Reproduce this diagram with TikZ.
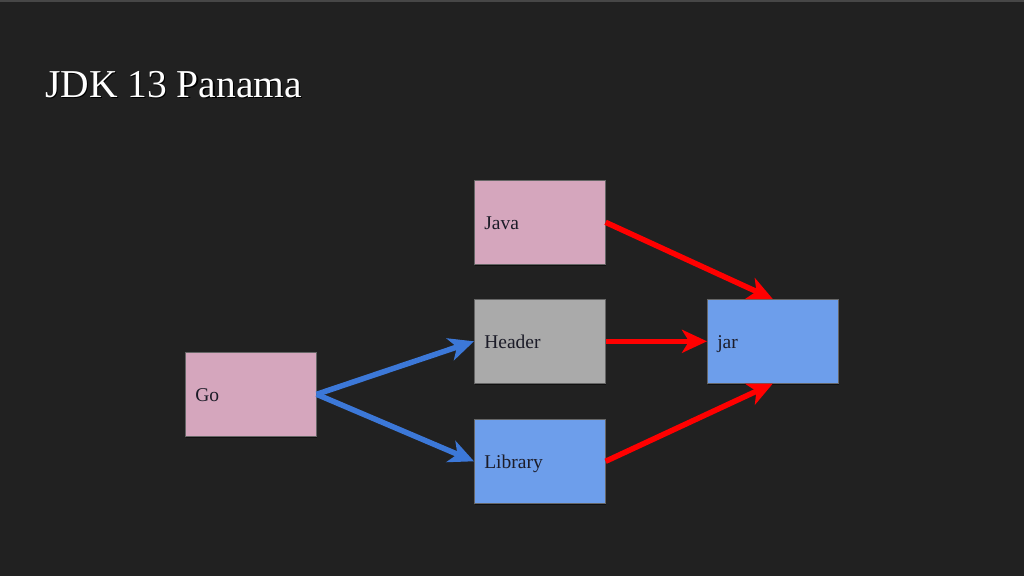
\documentclass[tikz,border=0pt]{standalone}
\usepackage{fontspec}
\setmainfont{Liberation Serif}
\usetikzlibrary{arrows.meta,shadows}
\definecolor{bg}{HTML}{212121}
\definecolor{pinkbox}{HTML}{D5A6BD}
\definecolor{graybox}{HTML}{AAAAAA}
\definecolor{bluebox}{HTML}{6D9EEB}
\definecolor{blueline}{HTML}{3C78D8}
\definecolor{redline}{HTML}{FF0000}
\definecolor{boxtext}{HTML}{1C1C28}
\tikzset{
  box/.style={draw=black!60, line width=0.6pt, anchor=north west,
    minimum width=131pt, minimum height=84pt, text width=111pt, align=left,
    inner xsep=10pt, font=\fontsize{19.5}{22}\selectfont, text=boxtext,
    text height=16pt, text depth=2pt,
    drop shadow={shadow xshift=1pt, shadow yshift=-1.5pt, opacity=0.5, fill=black}},
  conn/.style={line width=5.5pt, -{Stealth[length=25pt,width=23pt,inset=7pt]}},
}
\begin{document}
\begin{tikzpicture}[x=1pt,y=-1pt]
\fill[bg] (0,0) rectangle (1024,576);
\useasboundingbox (0,0) rectangle (1024,576);
\fill[black!25!bg!80!white] (0,0) rectangle (1024,1.5);
\node[anchor=base west, text=black, font=\fontsize{39.5}{44}\selectfont, inner sep=0pt] (titleshadow) at (46.3,98.5) {JDK 13 Panama};
\node[anchor=base west, text=white, font=\fontsize{39.5}{44}\selectfont, inner sep=0pt] (title) at (45,97.5) {JDK 13 Panama};
\node[box, fill=pinkbox] (go) at (185,352) {Go};
\node[box, fill=pinkbox] (java) at (474,180) {Java};
\node[box, fill=graybox] (header) at (474,299) {Header};
\node[box, fill=bluebox] (library) at (474,419) {Library};
\node[box, fill=bluebox] (jar) at (707,299) {jar};
\draw[conn, blueline] (go.east) -- (header.west);
\draw[conn, blueline] (go.east) -- (library.west);
\draw[conn, redline] (java.east) -- (jar.north);
\draw[conn, redline] (header.east) -- (jar.west);
\draw[conn, redline] (library.east) -- (jar.south);
\end{tikzpicture}
\end{document}
